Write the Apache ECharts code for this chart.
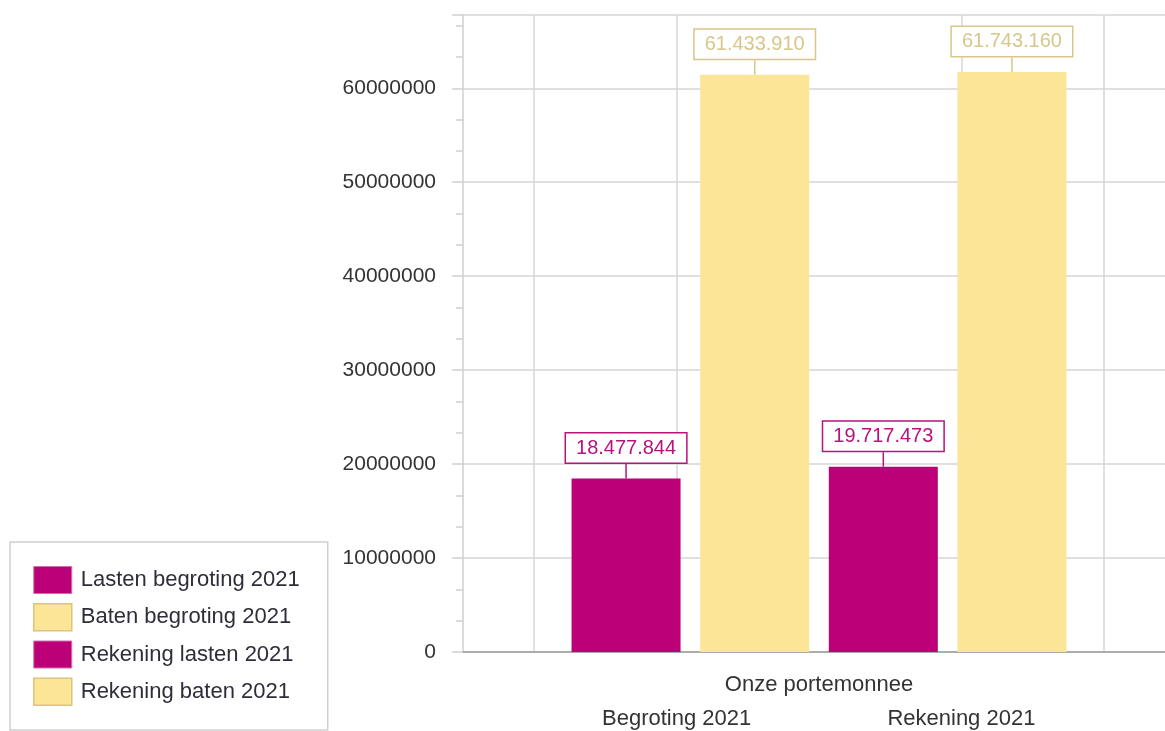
<!DOCTYPE html>
<html>
<head>
<meta charset="utf-8">
<script src="https://cdn.jsdelivr.net/npm/echarts@6/dist/echarts.min.js"></script>
<style>
  html, body { margin: 0; padding: 0; background: #fff; }
  #chart { width: 1165px; height: 731px; }
</style>
</head>
<body>
<div id="chart"></div>
<script>
// categorie van de hoofdas
var categories = ['Onze portemonnee'];
// groepslabels onder de as
var groupLabels = ['Begroting 2021', 'Rekening 2021'];
// reeksen
var seriesNames = ['Lasten begroting 2021', 'Baten begroting 2021', 'Rekening lasten 2021', 'Rekening baten 2021'];
var lastenBegroting = [18477844];
var batenBegroting = [61433910];
var rekeningLasten = [19717473];
var rekeningBaten = [61743160];

var FONT = "'Liberation Sans', Arial, sans-serif";
var MAGENTA = '#bc0077';
var YELLOW = '#fde598';

// getal met punten als duizendtal-scheiding
function formatNl(v) {
    return String(v).replace(/\B(?=(\d{3})+(?!\d))/g, '.');
}

function makeSeries(name, data, fill, labelColor) {
    return {
        name: name,
        type: 'bar',
        xAxisIndex: 0,
        barWidth: 109,
        barGap: '18%',
        itemStyle: { color: fill },
        label: {
            show: true,
            position: 'top',
            distance: 0,
            formatter: function (p) { return formatNl(p.value); },
            fontFamily: FONT,
            fontSize: 20,
            color: labelColor,
            backgroundColor: '#fff',
            borderColor: labelColor,
            borderWidth: 1.5,
            padding: [5, 10, 4, 10]
        },
        labelLayout: { dy: -16 },
        labelLine: {
            show: true,
            lineStyle: { color: labelColor, width: 1.5 }
        },
        data: data
    };
}

var chart = echarts.init(document.getElementById('chart'));
var option = {
    animation: false,
    backgroundColor: '#fff',
    grid: {
        left: 463,
        width: 712,
        top: 15,
        bottom: 79,
        containLabel: false,
        outerBoundsMode: 'none'
    },
    legend: {
        orient: 'vertical',
        left: 10,
        top: 542,
        padding: [24, 28, 24, 23],
        itemWidth: 38,
        itemHeight: 27,
        itemGap: 9,
        borderColor: '#cfcfcf',
        borderWidth: 1.5,
        textStyle: { fontFamily: FONT, fontSize: 22, color: '#2e2e3a', padding: [0, 0, 0, 4] },
        data: [
            { name: seriesNames[0], icon: 'rect', itemStyle: { borderColor: '#d070a8', borderWidth: 1 } },
            { name: seriesNames[1], icon: 'rect', itemStyle: { borderColor: '#dcc47c', borderWidth: 1.5 } },
            { name: seriesNames[2], icon: 'rect', itemStyle: { borderColor: '#d070a8', borderWidth: 1 } },
            { name: seriesNames[3], icon: 'rect', itemStyle: { borderColor: '#dcc47c', borderWidth: 1.5 } }
        ]
    },
    xAxis: [{
        type: 'category',
        position: 'bottom',
        data: categories,
        axisLine: { lineStyle: { color: '#9a9a9a', width: 1.5 } },
        axisTick: { alignWithLabel: true, length: 10, lineStyle: { color: '#9a9a9a', width: 1.5 } },
        axisLabel: { margin: 22, fontFamily: FONT, fontSize: 22, color: '#333' },
        splitLine: { show: false }
    }, {
        type: 'category',
        position: 'bottom',
        data: ['', groupLabels[0], '', groupLabels[1], ''],
        axisLine: { show: false },
        axisTick: { alignWithLabel: true, length: 4, lineStyle: { color: '#9a9a9a', width: 1.5 } },
        axisLabel: { margin: 56, interval: 0, fontFamily: FONT, fontSize: 22, color: '#333' },
        splitLine: {
            show: true,
            alignWithLabel: true,
            lineStyle: { color: ['#d6d6d6', '#d6d6d6', 'transparent', '#d6d6d6', '#d6d6d6'], width: 1.5 }
        }
    }],
    yAxis: {
        type: 'value',
        min: 0,
        max: 67800000,
        interval: 10000000,
        axisLine: { show: true, lineStyle: { color: '#cfcfcf', width: 1.5 } },
        axisTick: { show: true, length: 11, lineStyle: { color: '#cfcfcf', width: 1.5 } },
        minorTick: { show: true, splitNumber: 3, length: 7, lineStyle: { color: '#cfcfcf', width: 1.5 } },
        axisLabel: {
            margin: 27,
            showMaxLabel: false,
            formatter: function (v) { return String(v); },
            fontFamily: FONT,
            fontSize: 21,
            color: '#333'
        },
        splitLine: { show: true, lineStyle: { color: '#d6d6d6', width: 1.5 } }
    },
    series: [
        makeSeries(seriesNames[0], lastenBegroting, MAGENTA, '#b8127c'),
        makeSeries(seriesNames[1], batenBegroting, YELLOW, '#d8c68a'),
        makeSeries(seriesNames[2], rekeningLasten, MAGENTA, '#b8127c'),
        makeSeries(seriesNames[3], rekeningBaten, YELLOW, '#d8c68a')
    ]
};
chart.setOption(option);
</script>
</body>
</html>
